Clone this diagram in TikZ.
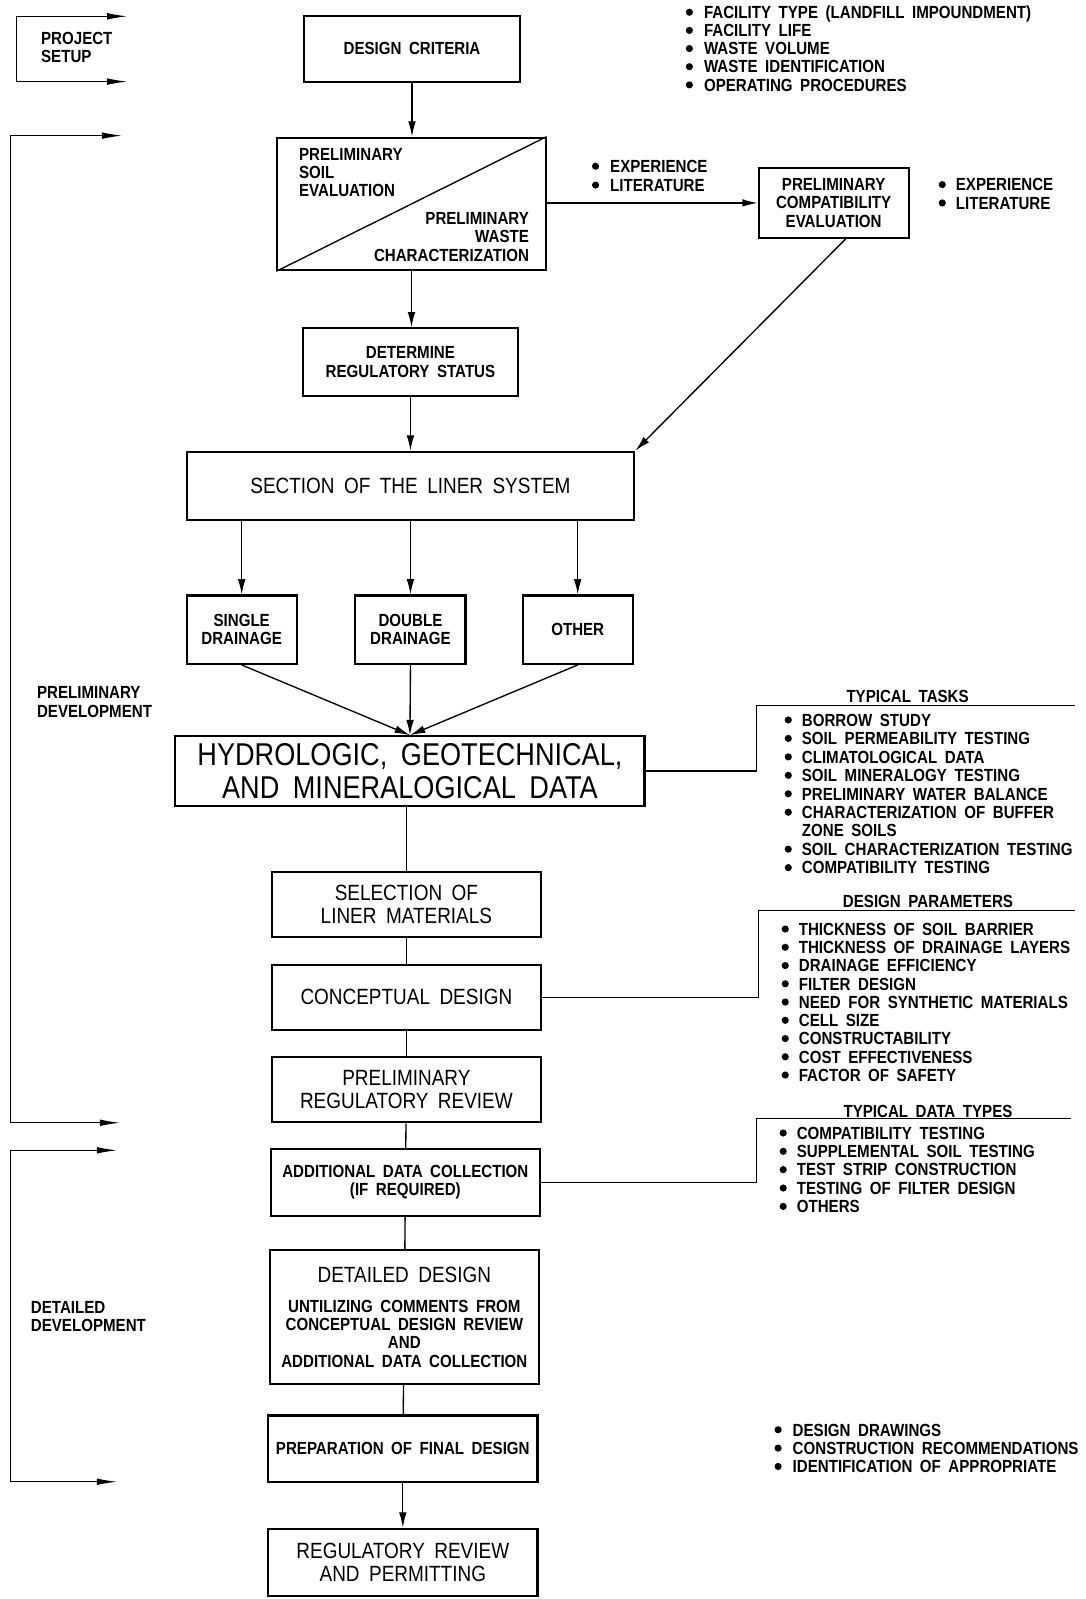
\documentclass[tikz,border=0pt]{standalone}
\usepackage{fontspec}
\usepackage{tikz}
\usetikzlibrary{arrows.meta, calc}
\newfontfamily\cadfont[FakeStretch=0.86, WordSpace=1.8]{Liberation Sans}
\newcommand{\smallcad}{\cadfont\bfseries\fontsize{9.8}{10.2}\selectfont}
\newcommand{\midcad}{\cadfont\mdseries\fontsize{12.3}{12.6}\selectfont}
\newcommand{\bigcad}{\cadfont\mdseries\fontsize{17.6}{18.2}\selectfont}
\newcommand{\unitpx}{0.02cm}

\begin{document}
\begin{tikzpicture}[x=0.02cm, y=-0.02cm,
    box/.style={draw, line width=1.2pt, inner sep=0pt, align=center, font=\smallcad},
    stage/.style={box, minimum width=264*\unitpx, minimum height=64*\unitpx, font=\midcad},
    flow/.style={line width=0.75pt, -{Latex[length=3mm, width=1.5mm]}},
    link/.style={line width=0.75pt},
    brace/.style={line width=0.75pt, {Latex[length=4mm, width=1.3mm]}-{Latex[length=4mm, width=1.3mm]}},
    item/.style={anchor=west, inner sep=0pt, text height=7pt, text depth=0pt, font=\smallcad},
    head/.style={item, anchor=center},
    tag/.style={anchor=north west, inner sep=0pt, align=left, font=\smallcad}]
    \useasboundingbox (0,0) rectangle (1064,1568);

    % phases on the left
    \draw[brace] (125,16) -- (16,16) -- (16,80) -- (125,80);
    \draw[brace] (120,133) -- (10,133) -- (10,1101) -- (118,1101);
    \draw[brace] (115,1128) -- (10,1128) -- (10,1453) -- (115,1453);
    \node[tag] (setup) at (40,31) {PROJECT\\SETUP};
    \node[tag] (predev) at (36,673) {PRELIMINARY\\DEVELOPMENT};
    \node[tag] (detdev) at (30,1276) {DETAILED\\DEVELOPMENT};

    % main flow
    \node[box, minimum width=212*\unitpx, minimum height=64*\unitpx] (crit) at (404,48) {DESIGN CRITERIA};
    \node[box, minimum width=263*\unitpx, minimum height=130*\unitpx] (prelim) at (403.5,200) {};
    \draw[link] (prelim.south west) -- (prelim.north east);
    \node[tag] (soil) at (293,145) {PRELIMINARY\\SOIL\\EVALUATION};
    \node[tag, anchor=north east, align=right] (waste) at (519,208) {PRELIMINARY\\WASTE\\CHARACTERIZATION};
    \node[box, minimum width=147*\unitpx, minimum height=68*\unitpx] (compat) at (817.5,199) {PRELIMINARY\\COMPATIBILITY\\EVALUATION};
    \node[box, minimum width=211*\unitpx, minimum height=66*\unitpx] (regstat) at (402.5,355) {DETERMINE\\REGULATORY STATUS};
    \node[box, minimum width=439*\unitpx, minimum height=67*\unitpx, font=\midcad] (liner) at (402.5,476.5) {SECTION OF THE LINER SYSTEM};
    \foreach \n/\x/\t in {single/237/{SINGLE\\DRAINAGE}, double/402.5/{DOUBLE\\DRAINAGE}, other/566.5/OTHER}
        \node[box, minimum width=108*\unitpx, minimum height=67*\unitpx] (\n) at (\x,617.5) {\t};
    \node[box, minimum width=460*\unitpx, minimum height=68*\unitpx, font=\bigcad] (hydro) at (402,756) {HYDROLOGIC, GEOTECHNICAL,\\AND MINERALOGICAL DATA};
    \node[stage] (select) at (398.5,887) {SELECTION OF\\LINER MATERIALS};
    \node[stage] (concept) at (398.5,978) {CONCEPTUAL DESIGN};
    \node[stage] (prereg) at (398.5,1068.5) {PRELIMINARY\\REGULATORY REVIEW};
    \node[stage, minimum height=65*\unitpx, font=\smallcad] (adddata) at (397.5,1159.5) {ADDITIONAL DATA COLLECTION\\(IF REQUIRED)};
    \node[stage, minimum height=131*\unitpx, font=\smallcad] (detail) at (396.5,1291.5)
        {{\midcad DETAILED DESIGN}\\[6.6pt]UNTILIZING COMMENTS FROM\\CONCEPTUAL DESIGN REVIEW\\AND\\ADDITIONAL DATA COLLECTION};
    \node[stage, minimum height=65*\unitpx, font=\smallcad] (final) at (395,1420.5) {PREPARATION OF FINAL DESIGN};
    \node[stage, minimum height=66*\unitpx] (permit) at (395,1532) {REGULATORY REVIEW\\AND PERMITTING};

    \draw[flow] (crit.south) -- (crit.south |- prelim.north);
    \draw[flow] (prelim.south) -- (prelim.south |- regstat.north);
    \draw[flow] (regstat.south) -- (regstat.south |- liner.north);
    \draw[flow] (prelim.east |- compat.west) -- (compat.west);
    \draw[flow] ($(compat.south)+(12,0)$) -- (liner.north east);
    \foreach \n in {single, double, other} {
        \draw[flow] (liner.south -| \n.north) -- (\n.north);
        \draw[flow] (\n.south) -- (hydro.north);
    }
    \draw[link] (hydro.south -| select.north) -- (select.north);
    \draw[link] (select) -- (concept);
    \draw[link] (concept) -- (prereg);
    \draw[link] (prereg) -- (adddata);
    \draw[link] (adddata) -- (detail);
    \draw[link] (detail) -- (final);
    \draw[flow] (final) -- (permit);

    % notes
    \foreach \t [count=\i from 0] in {FACILITY TYPE (LANDFILL IMPOUNDMENT), FACILITY LIFE, WASTE VOLUME, WASTE IDENTIFICATION, OPERATING PROCEDURES} {
        \fill (676,12+17.8*\i) circle (2pt);
        \node[item] (fac-\i) at (690,12+17.8*\i) {\t};
    }
    \foreach \t [count=\i from 0] in {EXPERIENCE, LITERATURE} {
        \fill (584,163+18.5*\i) circle (2pt);
        \node[item] (src-\i) at (598,163+18.5*\i) {\t};
        \fill (924,181+18*\i) circle (2pt);
        \node[item] (ref-\i) at (937,181+18*\i) {\t};
    }

    \coordinate (tasks-l) at (742,692);
    \coordinate (tasks-r) at (1054,692);
    \draw[link] (hydro.east) -| (tasks-l) -- (tasks-r);
    \node[head] (tasks) at (890,683) {TYPICAL TASKS};
    \foreach \b/\t [count=\i from 0] in {1/BORROW STUDY, 1/SOIL PERMEABILITY TESTING, 1/CLIMATOLOGICAL DATA,
            1/SOIL MINERALOGY TESTING, 1/PRELIMINARY WATER BALANCE, 1/CHARACTERIZATION OF BUFFER,
            0/ZONE SOILS, 1/SOIL CHARACTERIZATION TESTING, 1/COMPATIBILITY TESTING} {
        \ifnum\b=1 \fill (773,706+18.1*\i) circle (2pt); \fi
        \node[item] (task-\i) at (786,706+18.1*\i) {\t};
    }

    \coordinate (param-l) at (744,893);
    \coordinate (param-r) at (1054,893);
    \draw[link] (concept.east) -| (param-l) -- (param-r);
    \node[head] (params) at (910,884) {DESIGN PARAMETERS};
    \foreach \t [count=\i from 0] in {THICKNESS OF SOIL BARRIER, THICKNESS OF DRAINAGE LAYERS, DRAINAGE EFFICIENCY,
            FILTER DESIGN, NEED FOR SYNTHETIC MATERIALS, CELL SIZE, CONSTRUCTABILITY, COST EFFECTIVENESS, FACTOR OF SAFETY} {
        \fill (770,911+17.9*\i) circle (2pt);
        \node[item] (param-\i) at (783,911+17.9*\i) {\t};
    }

    \coordinate (data-l) at (742,1097);
    \coordinate (data-r) at (1050,1097);
    \draw[link] (adddata.east) -| (data-l) -- (data-r);
    \node[head] (datatypes) at (910,1090) {TYPICAL DATA TYPES};
    \foreach \t [count=\i from 0] in {COMPATIBILITY TESTING, SUPPLEMENTAL SOIL TESTING, TEST STRIP CONSTRUCTION,
            TESTING OF FILTER DESIGN, OTHERS} {
        \fill (768,1111+18*\i) circle (2pt);
        \node[item] (data-\i) at (781,1111+18*\i) {\t};
    }

    \foreach \t [count=\i from 0] in {DESIGN DRAWINGS, CONSTRUCTION RECOMMENDATIONS, IDENTIFICATION OF APPROPRIATE} {
        \fill (763,1402+18*\i) circle (2pt);
        \node[item] (out-\i) at (777,1402+18*\i) {\t};
    }
\end{tikzpicture}
\end{document}
